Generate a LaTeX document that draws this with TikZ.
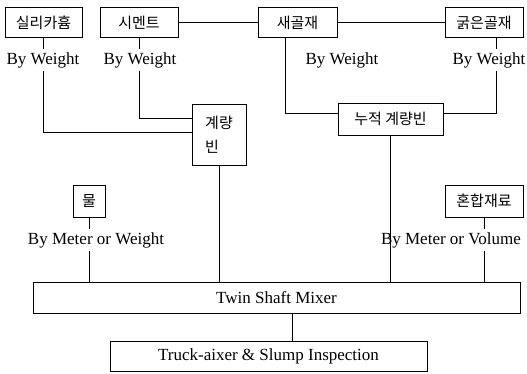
\documentclass[tikz,border=0pt]{standalone}
\usepackage{fontspec}
\setmainfont{Liberation Serif}
\newfontfamily\kr{Noto Sans CJK KR}
\usetikzlibrary{positioning}

\begin{document}
\begin{tikzpicture}[
    x=1pt, y=-1pt,
    box/.style={rectangle, draw=black, line width=0.7pt, inner sep=2pt, minimum height=30pt, font=\kr\fontsize{15}{18}\selectfont},
    kind/.style={inner sep=3pt, font=\fontsize{17}{20}\selectfont},
    link/.style={line width=0.7pt}
]
\useasboundingbox (0,0) rectangle (527,373);

\node[box, minimum width=77pt] (silica) at (43.5,22.5) {실리카흄};
\node[box, minimum width=78pt] (cement) at (139,22.5) {시멘트};
\node[box, minimum width=79pt] (fine) at (297.5,22.5) {새골재};
\node[box, minimum width=78pt] (coarse) at (484,22.5) {굵은골재};
\node[box, minimum width=54pt, minimum height=61pt, align=left] (bin) at (219,134.5) {계량\\[6pt]빈};
\node[box, minimum width=105pt, minimum height=32pt] (accum) at (390.5,119) {누적 계량빈};
\node[box, minimum width=32pt, minimum height=32pt] (water) at (89,201) {물};
\node[box, minimum width=78pt, minimum height=32pt] (admix) at (484,201) {혼합재료};
\node[box, minimum width=487pt, minimum height=31pt, font=\fontsize{17}{20}\selectfont] (mixer) at (276.5,297.5) {Twin Shaft Mixer};
\node[box, minimum width=317pt, font=\fontsize{17}{20}\selectfont] (truck) at (268.5,356.5) {Truck-aixer \& Slump Inspection};

\node[kind] (wsilica) at (43,60) {By Weight};
\node[kind] (wcement) at (140,60) {By Weight};
\node[kind] (wfine) at (342,60) {By Weight};
\node[kind] (wcoarse) at (489,60) {By Weight};
\node[kind] (wwater) at (96,240) {By Meter or Weight};
\node[kind] (wadmix) at (451,240) {By Meter or Volume};

\draw[link] (cement.east) -- (fine.west);
\draw[link] (fine.east) -- (coarse.west);
\draw[link] (silica.south) -- (silica.south |- wsilica.north);
\draw[link] (silica.south |- wsilica.south) |- ([yshift=2.5pt]bin.west);
\draw[link] (cement.south) -- (cement.south |- wcement.north);
\draw[link] (cement.south |- wcement.south) |- ([yshift=16.5pt]bin.west);
\draw[link] ([xshift=-12pt]fine.south) |- ([yshift=6pt]accum.west);
\draw[link] ([xshift=12pt]coarse.south) -- ([xshift=12pt]coarse.south |- wcoarse.north);
\draw[link] ([xshift=12pt]coarse.south |- wcoarse.south) |- ([yshift=6pt]accum.east);
\draw[link] (water.south) -- (water.south |- wwater.north);
\draw[link] (water.south |- wwater.south) -- (water.south |- mixer.north);
\draw[link] (bin.south) -- (bin.south |- mixer.north);
\draw[link] (accum.south) -- (accum.south |- mixer.north);
\draw[link] (admix.south) -- (admix.south |- wadmix.north);
\draw[link] (admix.south |- wadmix.south) -- (admix.south |- mixer.north);
\draw[link] ([xshift=15.5pt]mixer.south) -- ([xshift=15.5pt]mixer.south |- truck.north);
\end{tikzpicture}
\end{document}
